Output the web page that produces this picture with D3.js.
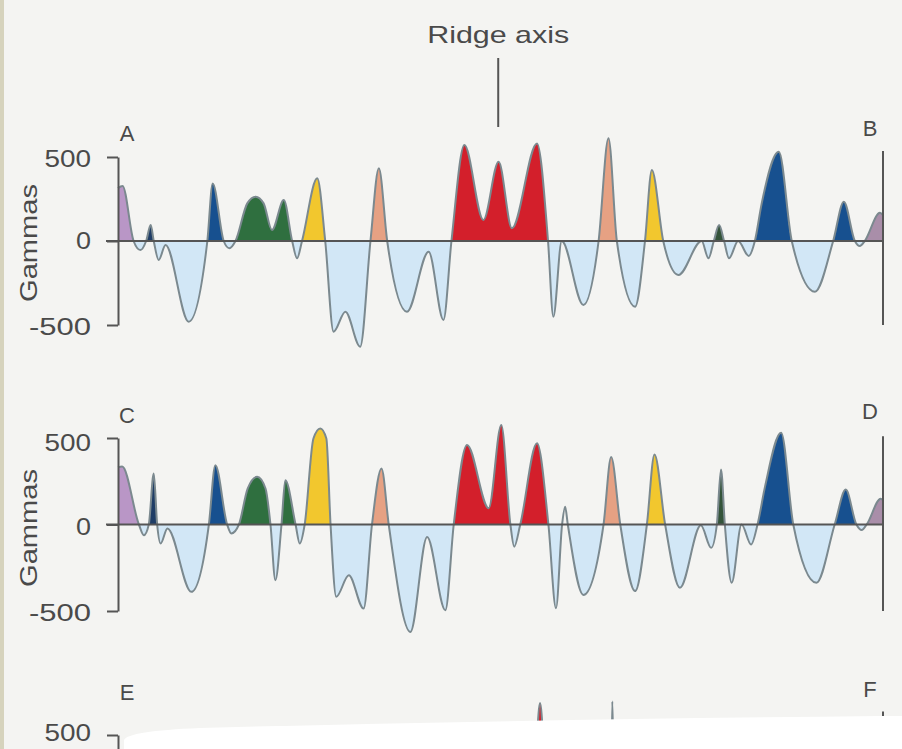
<!DOCTYPE html>
<html><head><meta charset="utf-8">
<script src="https://cdn.jsdelivr.net/npm/d3@7"></script>
<style>html,body{margin:0;padding:0;background:#f4f4f2;} svg{display:block;}</style>
</head><body><svg id="c" width="902" height="749"></svg>
<script>
// ---- DATA (distance from ridge axis in km, anomaly in gammas) ----
const profileAB = [[-100,315],[-98.8,328],[-95.9,0],[-94.1,-54],[-92.6,0],[-91.4,95],[-90.6,0],[-89.3,-113],[-87.5,-24],[-81.4,-480],[-76.5,0],[-75.1,343],[-72.2,0],[-70.7,-43],[-69.1,0],[-66.0,224],[-63.8,264],[-61.7,224],[-59.5,65],[-56.4,244],[-54.2,0],[-52.9,-103],[-51.6,0],[-47.6,373],[-45.5,0],[-43.3,-540],[-40.2,-421],[-36.3,-629],[-33.6,0],[-31.4,433],[-29.2,0],[-24.0,-421],[-18.3,-64],[-14.4,-470],[-12.3,0],[-8.9,571],[-3.9,125],[0.1,472],[3.6,76],[10.2,581],[13.1,0],[14.5,-451],[16.7,0],[22.4,-381],[26.4,0],[29.0,611],[31.2,0],[36.0,-391],[38.6,0],[40.4,423],[43.4,0],[47.4,-202],[53.5,0],[55.3,-103],[56.7,0],[58.1,95],[59.4,0],[60.7,-103],[63.1,0],[65.9,-89],[67.5,0],[69.3,224],[73.8,531],[77.2,0],[83.3,-302],[88.1,0],[90.9,234],[93.8,0],[95.1,-30],[96.4,0],[100.4,168],[101.2,155]];
const profileCD = [[-100,330],[-98.9,335],[-94.5,0],[-93.2,-62],[-91.9,0],[-90.6,295],[-89.7,0],[-88.8,-110],[-87.0,-23],[-80.7,-389],[-76.1,0],[-74.4,343],[-71.3,0],[-70.2,-52],[-68.2,0],[-65.9,208],[-63.4,276],[-61.2,208],[-59.9,0],[-58.6,-322],[-57.0,0],[-56.0,256],[-53.3,0],[-52.2,-110],[-50.9,0],[-48.6,497],[-46.8,555],[-45.2,497],[-44.1,0],[-42.6,-418],[-39.3,-293],[-35.4,-486],[-33.2,0],[-30.7,324],[-28.8,0],[-23.1,-621],[-18.7,-72],[-13.9,-495],[-11.7,0],[-8.2,460],[-2.5,94],[0.8,575],[3.2,0],[4.2,-128],[5.8,0],[10.2,469],[13.2,0],[15.2,-484],[16.8,0],[17.6,102],[18.3,0],[22.4,-407],[27.7,0],[29.7,390],[32.1,0],[36.0,-385],[39.1,0],[41.1,405],[43.9,0],[47.8,-366],[53.3,-5],[56.0,-135],[57.5,0],[58.6,318],[59.6,0],[61.4,-337],[64.0,0],[66.5,-116],[68.2,0],[70.2,222],[74.4,530],[77.6,0],[83.7,-337],[88.5,0],[91.4,202],[94.2,0],[95.6,-32],[96.9,0],[100.6,149],[101.2,140]];
const profileEF = [[6,0],[9.6,300],[11.0,690],[12.4,300],[16,0],[29.6,0],[30.0,700],[30.4,0]];

// colour bands of positive anomalies: [from km, to km, stripe]
const bandsAB = [[-100,-95.9,'purple'],[-92.6,-90.6,'navy'],[-76.5,-72.2,'blue'],[-69.1,-54.2,'green'],[-51.6,-45.5,'yellow'],[-33.6,-29.2,'salmon'],[-12.3,13.1,'red'],[26.4,31.2,'salmon'],[38.6,43.4,'yellow'],[56.7,59.4,'darkgreen'],[67.5,77.2,'blue'],[88.1,93.8,'blue'],[96.4,101.2,'mauve']];
const bandsCD = [[-100,-94.5,'purple'],[-91.9,-89.7,'navy'],[-76.1,-71.3,'blue'],[-68.2,-59.9,'green'],[-57.0,-53.3,'green'],[-50.9,-44.1,'yellow'],[-33.2,-28.8,'salmon'],[-11.7,3.2,'red'],[5.8,13.2,'red'],[27.7,32.1,'salmon'],[39.1,43.9,'yellow'],[57.5,59.6,'darkgreen'],[68.2,77.6,'blue'],[88.5,94.2,'blue'],[96.9,101.2,'mauve']];
const bandsEF = [[6,16,'red']];

const tickValues = [-500, 0, 500];
const tickLabels = ['-500', '0', '500'];
const panelNames = [['A','B'],['C','D'],['E','F']];
const axisTitle = 'Gammas';
const ridgeTitle = 'Ridge axis';
const ridgeKm = 0;
const xExtent = [-100, 101.2];

// ---- STYLE ----
const W = 902, H = 749;
const palette = {purple:'#b996c6', navy:'#1f3d66', blue:'#17508f', green:'#2f6f3f', yellow:'#f2c72e', salmon:'#e6a183', red:'#d31f2b', darkgreen:'#34543a', mauve:'#a98ea9'};
const negColor = '#d2e7f6';
const lineColor = '#7b898f';
const ink = '#4a4a4a';
const font = '"Liberation Sans", Arial, sans-serif';

const svg = d3.select('#c');
const defs = svg.append('defs');
svg.append('rect').attr('width',W).attr('height',H).attr('fill','#f4f4f2');
svg.append('rect').attr('x',0).attr('y',0).attr('width',4).attr('height',H).attr('fill','#d6d3bd');

const x = d3.scaleLinear().domain(xExtent).range([118, 883]);

const panels = [
  {id:'AB', data:profileAB, bands:bandsAB, yr:[325,157], names:panelNames[0], rightTop:535, nameY:[141,136], tickDy:[2,0,2], titleY:243},
  {id:'CD', data:profileCD, bands:bandsCD, yr:[611,438], names:panelNames[1], rightTop:510, nameY:[423,419], tickDy:[2,2,5], titleY:528},
  {id:'EF', data:profileEF, bands:bandsEF, yr:[903,735], names:panelNames[2], rightTop:640, nameY:[700,697], tickDy:[0,0,-2], titleY:null}
];

const root = svg.append('g');

panels.forEach(p => {
  const y = d3.scaleLinear().domain([-500,500]).range(p.yr);
  const g = root.append('g');
  const area = d3.area().x(d=>x(d[0])).y0(y(0)).y1(d=>y(d[1])).curve(d3.curveMonotoneX);
  const line = d3.line().x(d=>x(d[0])).y(d=>y(d[1])).curve(d3.curveMonotoneX);

  const negId = 'neg'+p.id;
  defs.append('clipPath').attr('id',negId).append('rect')
    .attr('x',0).attr('y',y(0)).attr('width',W).attr('height',500);
  g.append('path').datum(p.data).attr('d',area).attr('fill',negColor).attr('clip-path',`url(#${negId})`);

  p.bands.forEach((b,i) => {
    const id = 'b'+p.id+i;
    defs.append('clipPath').attr('id',id).append('rect')
      .attr('x',x(b[0])).attr('y',0).attr('width',x(b[1])-x(b[0])).attr('height',y(0));
    g.append('path').datum(p.data).attr('d',area).attr('fill',palette[b[2]]).attr('clip-path',`url(#${id})`);
  });

  g.append('path').datum(p.data).attr('d',line).attr('fill','none')
    .attr('stroke',lineColor).attr('stroke-width',2).attr('stroke-linejoin','round');

  // zero line
  g.append('line').attr('x1',x(xExtent[0])-12).attr('x2',x(xExtent[1]))
    .attr('y1',y(0)).attr('y2',y(0)).attr('stroke','#555').attr('stroke-width',2);

  // right end line
  g.append('line').attr('x1',x(xExtent[1])).attr('x2',x(xExtent[1]))
    .attr('y1',y(p.rightTop)).attr('y2',y(-500)).attr('stroke','#555').attr('stroke-width',2);

  // y axis (bracket) – only ticks that fall on the visible page
  const vis = tickValues.map((v,i)=>({v, i})).filter(t => y(t.v) < H - 8);
  const ax = g.append('g').attr('transform',`translate(${x(xExtent[0])},0)`)
    .call(d3.axisLeft(y).tickValues(vis.map(t=>t.v)).tickSize(11).tickSizeOuter(0).tickPadding(16)
      .tickFormat(v => tickLabels[tickValues.indexOf(v)]));
  ax.selectAll('path,line').attr('stroke','#555').attr('stroke-width',2);
  ax.selectAll('text').attr('font-family',font).attr('font-size',23).attr('fill',ink)
    .attr('dy',v => (0.34*23 + p.tickDy[tickValues.indexOf(v)]) + 'px')
    .attr('textLength',v => { const s = tickLabels[tickValues.indexOf(v)]; return s.length===1 ? 15 : s.length*15.5; })
    .attr('lengthAdjust','spacingAndGlyphs');

  if (p.titleY !== null) {
    g.append('text').attr('transform',`translate(37,${p.titleY}) rotate(-90)`)
      .attr('text-anchor','middle').attr('font-family',font).attr('font-size',24)
      .attr('fill',ink).attr('textLength',118).attr('lengthAdjust','spacingAndGlyphs').text(axisTitle);
  }
  g.append('text').attr('x',127).attr('y',p.nameY[0]).attr('text-anchor','middle')
    .attr('font-family',font).attr('font-size',22).attr('fill',ink).text(p.names[0]);
  g.append('text').attr('x',870).attr('y',p.nameY[1]).attr('text-anchor','middle')
    .attr('font-family',font).attr('font-size',22).attr('fill',ink).text(p.names[1]);
});

// ridge axis
root.append('text').attr('x',x(ridgeKm)).attr('y',43).attr('text-anchor','middle')
  .attr('font-family',font).attr('font-size',24).attr('fill',ink)
  .attr('textLength',142).attr('lengthAdjust','spacingAndGlyphs').text(ridgeTitle);
root.append('line').attr('x1',x(ridgeKm)).attr('x2',x(ridgeKm)).attr('y1',58).attr('y2',127)
  .attr('stroke','#555').attr('stroke-width',2);

// white torn page covering lower profile
svg.append('path').attr('d','M124,749 L124,740 Q128,731 200,728 Q500,720 880,716 L902,716 L902,749 Z').attr('fill','#ffffff');
</script></body></html>
